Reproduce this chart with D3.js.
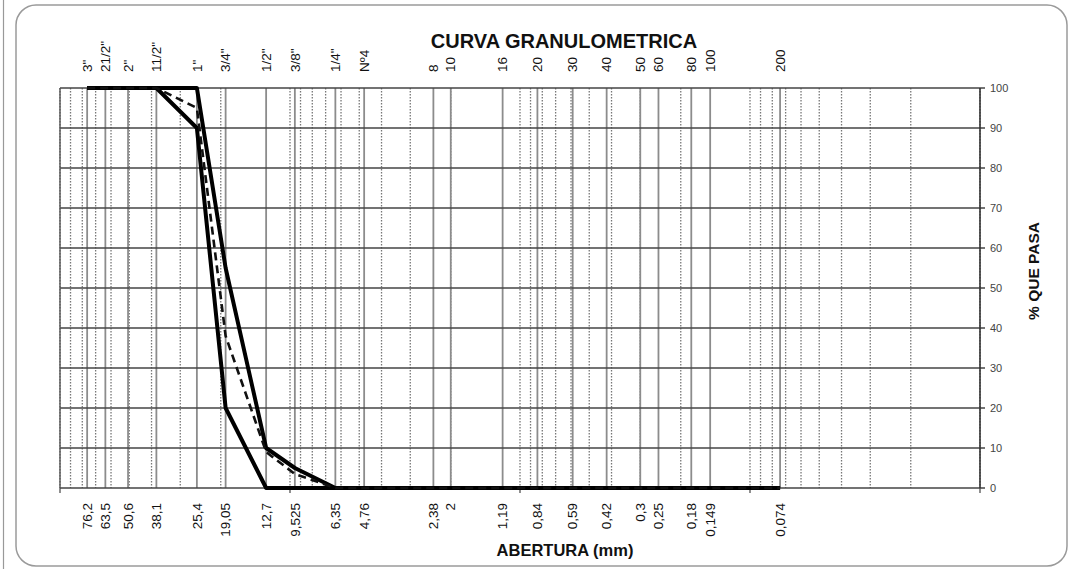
<!DOCTYPE html>
<html><head><meta charset="utf-8">
<script src="https://cdn.jsdelivr.net/npm/d3@7"></script>
<style>
html,body{margin:0;padding:0;background:#fff;}
svg{display:block;font-family:"Liberation Sans",Arial,sans-serif;}
</style></head>
<body>
<svg id="chart" width="1077" height="575"></svg>
<script>
// ---- data ----
const sieveMM = [76.2, 63.5, 50.6, 38.1, 25.4, 19.05, 12.7, 9.525, 6.35, 4.76, 2.38, 2, 1.19, 0.84, 0.59, 0.42, 0.3, 0.25, 0.18, 0.149, 0.074];
const sieveNames = ['3"', '21/2"', '2"', '11/2"', '1"', '3/4"', '1/2"', '3/8"', '1/4"', 'Nº4', '8', '10', '16', '20', '30', '40', '50', '60', '80', '100', '200'];
const sieveLabels = ['76,2', '63,5', '50,6', '38,1', '25,4', '19,05', '12,7', '9,525', '6,35', '4,76', '2,38', '2', '1,19', '0,84', '0,59', '0,42', '0,3', '0,25', '0,18', '0,149', '0,074'];
const lowerLimit = [100, 100, 100, 100, 90, 20, 0, 0, 0, 0, 0, 0, 0, 0, 0, 0, 0, 0, 0, 0, 0];
const upperLimit = [100, 100, 100, 100, 100, 55, 10, 5, 0, 0, 0, 0, 0, 0, 0, 0, 0, 0, 0, 0, 0];
const sample     = [100, 100, 100, 100, 95, 38, 9, 3.5, 0, 0, 0, 0, 0, 0, 0, 0, 0, 0, 0, 0, 0];
const yTicks = [0, 10, 20, 30, 40, 50, 60, 70, 80, 90, 100];
const title = "CURVA GRANULOMETRICA";
const xTitle = "ABERTURA (mm)";
const yTitle = "% QUE PASA";

// ---- scales ----
const svg = d3.select("#chart");
const x = d3.scaleLog().domain([100, 0.01]).range([60, 980]);
const y = d3.scaleLinear().domain([0, 100]).range([488, 88]);

// outer frame
svg.append("line").attr("x1", 3.5).attr("x2", 3.5).attr("y1", 0).attr("y2", 569)
  .attr("stroke", "#999").attr("stroke-width", 1.2);
svg.append("rect").attr("x", 16).attr("y", 5).attr("width", 1051).attr("height", 561)
  .attr("rx", 20).attr("fill", "none").attr("stroke", "#9a9a9a").attr("stroke-width", 1.5);

const g = svg.append("g");

// minor log grid (dotted)
const minor = x.ticks();
g.selectAll(".minor").data(minor).join("line")
  .attr("x1", d => x(d)).attr("x2", d => x(d)).attr("y1", y(100)).attr("y2", y(0))
  .attr("stroke", "#777").attr("stroke-width", 1.3).attr("stroke-dasharray", "1.5,1.5");

// sieve grid (solid gray)
g.selectAll(".sieve").data(sieveMM).join("line")
  .attr("x1", d => x(d)).attr("x2", d => x(d)).attr("y1", y(100)).attr("y2", y(0))
  .attr("stroke", "#8c8c8c").attr("stroke-width", 1.8);

// horizontal grid
g.selectAll(".hg").data(yTicks).join("line")
  .attr("x1", x(100)).attr("x2", x(0.01) + 5).attr("y1", d => y(d)).attr("y2", d => y(d))
  .attr("stroke", "#444").attr("stroke-width", 1.4);

// borders
g.append("line").attr("x1", x(100)).attr("x2", x(100)).attr("y1", y(100)).attr("y2", y(0))
  .attr("stroke", "#555").attr("stroke-width", 1.4);
g.append("line").attr("x1", x(0.01)).attr("x2", x(0.01)).attr("y1", y(100)).attr("y2", y(0))
  .attr("stroke", "#333").attr("stroke-width", 1.6);

// decade ticks below axis
const decades = [100, 10, 1, 0.1, 0.01];
g.selectAll(".dt").data(decades).join("line")
  .attr("x1", d => x(d)).attr("x2", d => x(d)).attr("y1", y(0)).attr("y2", y(0) + 5)
  .attr("stroke", "#444").attr("stroke-width", 1.2);

// right y axis labels
g.selectAll(".yl").data(yTicks).join("text")
  .attr("x", x(0.01) + 10).attr("y", d => y(d)).attr("dy", "0.35em")
  .attr("font-size", 11).attr("fill", "#444").text(d => d);

// top sieve names
g.selectAll(".tn").data(sieveMM).join("text")
  .attr("transform", d => `translate(${x(d)},72) rotate(-90)`)
  .attr("dy", "0.35em").attr("text-anchor", "start")
  .attr("font-size", 13.5).attr("fill", "#111")
  .text((d, i) => sieveNames[i]);

// bottom sieve sizes
g.selectAll(".bn").data(sieveMM).join("text")
  .attr("transform", d => `translate(${x(d)},503) rotate(-90)`)
  .attr("dy", "0.35em").attr("text-anchor", "end")
  .attr("font-size", 13.5).attr("fill", "#111")
  .text((d, i) => sieveLabels[i]);

// curves
const line = d3.line().x(d => x(d[0])).y(d => y(d[1]));
const toPts = arr => sieveMM.map((s, i) => [s, arr[i]]);
g.append("path").attr("d", line(toPts(lowerLimit))).attr("fill", "none")
  .attr("stroke", "#000").attr("stroke-width", 4).attr("stroke-linejoin", "round");
g.append("path").attr("d", line(toPts(upperLimit))).attr("fill", "none")
  .attr("stroke", "#000").attr("stroke-width", 4).attr("stroke-linejoin", "round");
g.append("path").attr("d", line(toPts(sample))).attr("fill", "none")
  .attr("stroke", "#111").attr("stroke-width", 2.6).attr("stroke-dasharray", "8,5");

// titles
svg.append("text").attr("x", 564).attr("y", 48).attr("text-anchor", "middle")
  .attr("font-size", 20).attr("font-weight", "bold").attr("fill", "#111").text(title);
svg.append("text").attr("x", 565).attr("y", 556).attr("text-anchor", "middle")
  .attr("font-size", 16.5).attr("font-weight", "bold").attr("fill", "#111").text(xTitle);
svg.append("text").attr("transform", "translate(1039,271) rotate(-90)")
  .attr("text-anchor", "middle").attr("font-size", 15.5).attr("font-weight", "bold")
  .attr("fill", "#111").text(yTitle);
</script>
</body></html>
